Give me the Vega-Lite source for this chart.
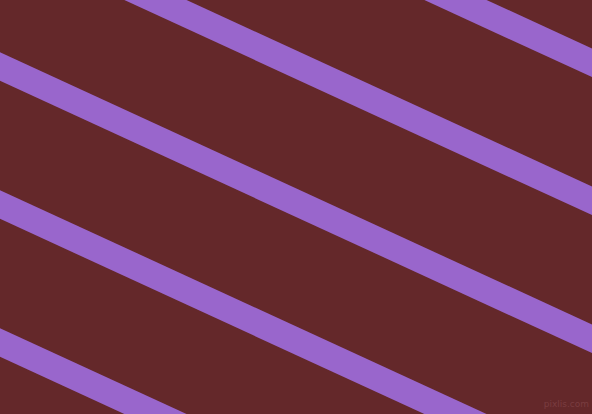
{
  "$schema": "https://vega.github.io/schema/vega-lite/v6.json",
  "description": "Diagonal amethyst stripes on a maroon ground.",
  "width": 592,
  "height": 414,
  "autosize": {"type": "fit", "contains": "padding"},
  "padding": 0,
  "background": "#64282A",
  "config": {"view": {"stroke": null}},
  "layer": [
    {
      "data": {
        "values": [
          {"stripe": 1, "x": -20, "y": -218.7},
          {"stripe": 1, "x": 612, "y": 72.0},
          {"stripe": 2, "x": -20, "y": -80.7},
          {"stripe": 2, "x": 612, "y": 210.0},
          {"stripe": 3, "x": -20, "y": 57.3},
          {"stripe": 3, "x": 612, "y": 348.0},
          {"stripe": 4, "x": -20, "y": 195.3},
          {"stripe": 4, "x": 612, "y": 486.0},
          {"stripe": 5, "x": -20, "y": 333.3},
          {"stripe": 5, "x": 612, "y": 624.0}
        ]
      },
      "mark": {"type": "line", "color": "#9966CC", "strokeWidth": 26, "clip": true, "strokeCap": "butt"},
      "encoding": {
        "x": {"field": "x", "type": "quantitative", "scale": {"domain": [0, 592], "nice": false, "zero": false}, "axis": null},
        "y": {"field": "y", "type": "quantitative", "scale": {"domain": [0, 414], "nice": false, "zero": false, "reverse": true}, "axis": null},
        "detail": {"field": "stripe", "type": "nominal"}
      }
    },
    {
      "data": {"values": [{"x": 589, "y": 404, "label": "pixlis.com"}]},
      "mark": {"type": "text", "align": "right", "baseline": "middle", "fontSize": 9, "font": "DejaVu Sans", "color": "#7A3D40"},
      "encoding": {
        "x": {"field": "x", "type": "quantitative"},
        "y": {"field": "y", "type": "quantitative"},
        "text": {"field": "label"}
      }
    }
  ]
}
